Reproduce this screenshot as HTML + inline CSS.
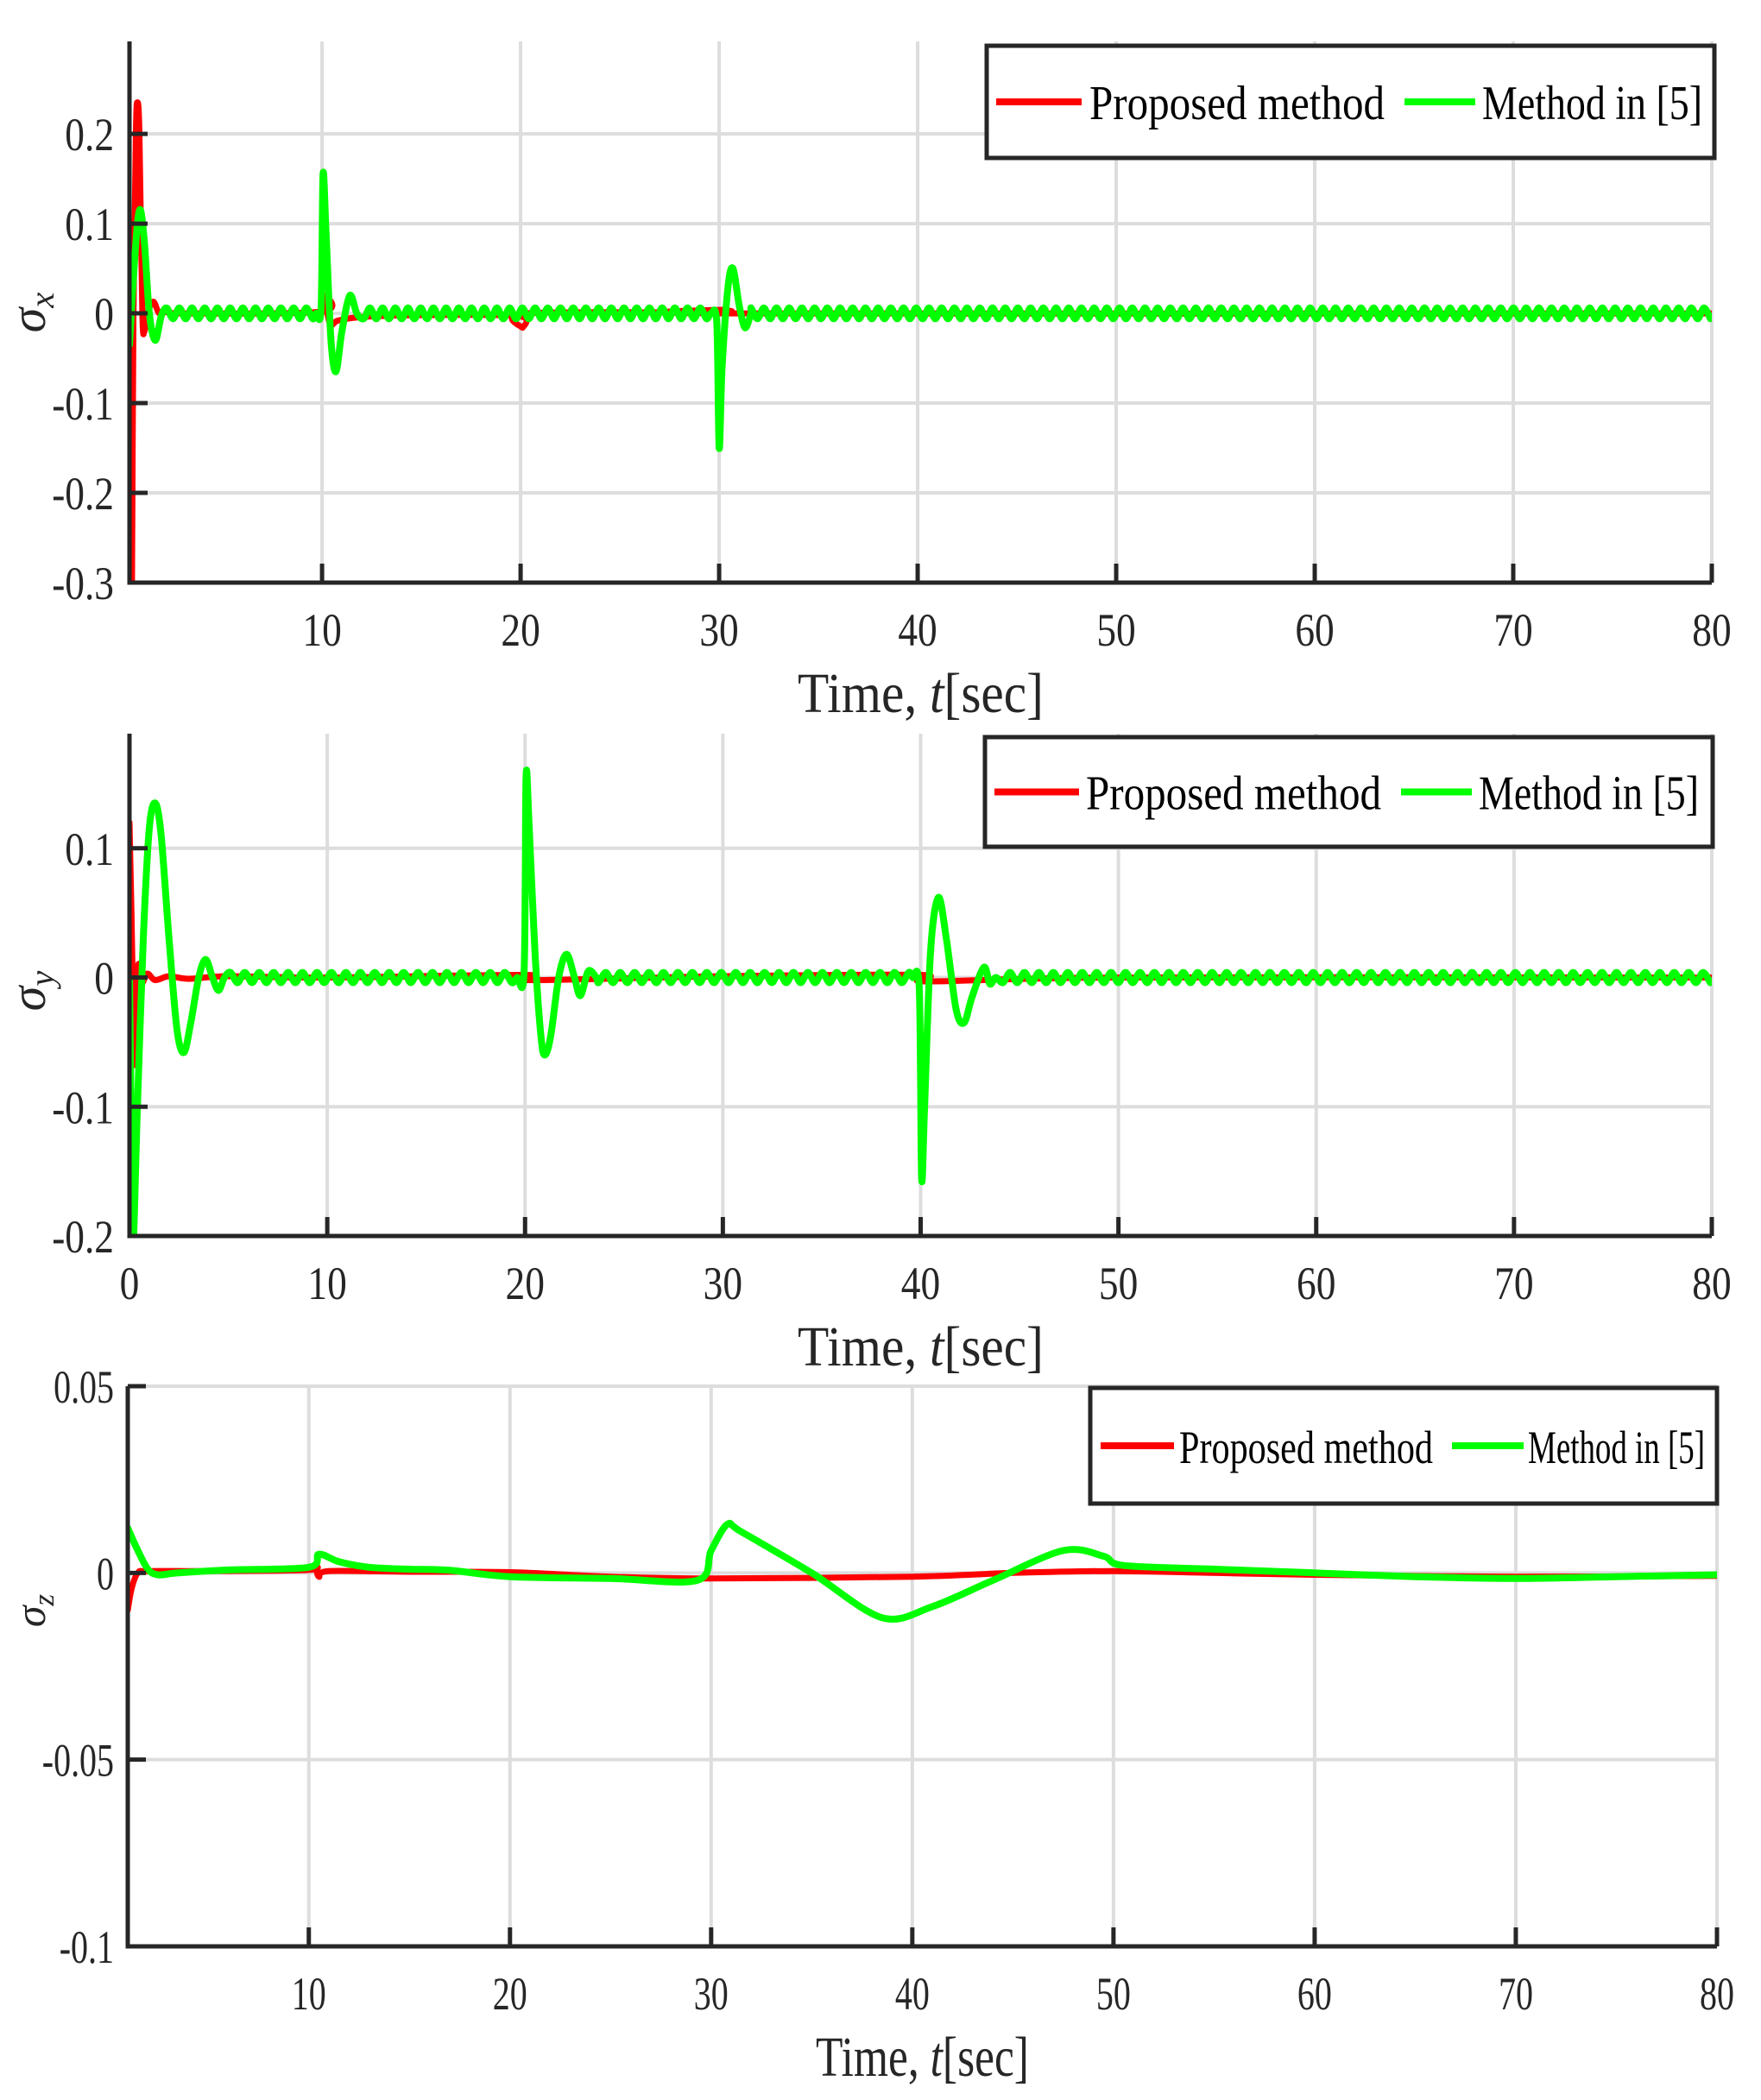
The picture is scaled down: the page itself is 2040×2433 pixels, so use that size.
<!DOCTYPE html>
<html><head><meta charset="utf-8"><style>
html,body{margin:0;padding:0;background:#fff;}
svg{display:block;}
text{font-family:"Liberation Serif","DejaVu Serif",serif;fill:#262626;}
</style></head><body>
<svg id="fig" width="2040" height="2433" viewBox="0 0 2040 2433" xmlns="http://www.w3.org/2000/svg">
<defs>
<clipPath id="c1"><rect x="150" y="48" width="1833" height="627"/></clipPath>
<clipPath id="c2"><rect x="150" y="850" width="1833" height="582"/></clipPath>
<clipPath id="c3"><rect x="148" y="1606" width="1841" height="649"/></clipPath>
</defs>
<g id="g1"></g>
<g id="g2"></g>
<g id="g3"></g>
</svg>
<script>
// ---------- chart 1 (sigma_x) data ----------
const c1Red = [[0.42,-0.32],[0.5,0.0],[0.62,0.2],[0.7,0.235],[0.8,0.2],[0.95,0.0],[1.05,-0.02],[1.2,0.0],[1.5,0.013],[1.8,0.0],[2.2,0.002],[3,0],[10,0.002],[10.1,0.02],[10.4,-0.012],[10.8,-0.008],[12,-0.004],[15,-0.002],[19.9,-0.003],[20.1,-0.016],[20.3,0],[29.9,0.001],[30.2,0.004],[31,0],[80,0]];
const c1GreenTrans = [[0.3,-0.035],[0.5,0.04],[0.7,0.1],[0.86,0.115],[1.05,0.08],[1.3,0.0],[1.6,-0.03],[1.9,-0.003],
 [9.7,0.0],[9.95,0.005],[10.05,0.155],[10.2,0.09],[10.45,-0.03],[10.7,-0.065],[11.0,-0.02],[11.4,0.02],[11.75,0.0],
 [29.6,0.0],[29.88,-0.01],[30.0,-0.15],[30.15,-0.06],[30.45,0.03],[30.7,0.05],[31.0,0.01],[31.3,-0.016],[31.6,0.0]];
const c1Windows = [[0.3,2.0],[9.6,11.8],[29.5,31.6]];
const c1RippleStart = 2.17, c1RippleStep = 0.32;
const c1Ripple = [
0.006,-0.006,0.006,-0.006,0.006,-0.006,0.006,-0.006,0.006,-0.006,0.006,-0.006,0.006,-0.006,0.006,-0.006,
0.006,-0.006,0.006,-0.006,0.006,-0.006,0.006,-0.006,0.006,-0.006,0.006,-0.006,0.006,-0.006,0.006,-0.006,
0.006,-0.006,0.006,-0.006,0.006,-0.006,0.006,-0.006,0.006,-0.006,0.006,-0.006,0.006,-0.006,0.006,-0.006,
0.006,-0.006,0.006,-0.006,0.006,-0.006,0.006,-0.006,0.006,-0.006,0.006,-0.006,0.006,-0.006,0.006,-0.006,
0.006,-0.006,0.006,-0.006,0.006,-0.006,0.006,-0.006,0.006,-0.006,0.006,-0.006,0.006,-0.006,0.006,-0.006,
0.006,-0.006,0.006,-0.006,0.006,-0.006,0.006,-0.006,0.006,-0.006,0.006,-0.006,0.006,-0.006,0.006,-0.006,
0.006,-0.006,0.006,-0.006,0.006,-0.006,0.006,-0.006,0.006,-0.006,0.006,-0.006,0.006,-0.006,0.006,-0.006,
0.006,-0.006,0.006,-0.006,0.006,-0.006,0.006,-0.006,0.006,-0.006,0.006,-0.006,0.006,-0.006,0.006,-0.006,
0.006,-0.006,0.006,-0.006,0.006,-0.006,0.006,-0.006,0.006,-0.006,0.006,-0.006,0.006,-0.006,0.006,-0.006,
0.006,-0.006,0.006,-0.006,0.006,-0.006,0.006,-0.006,0.006,-0.006,0.006,-0.006,0.006,-0.006,0.006,-0.006,
0.006,-0.006,0.006,-0.006,0.006,-0.006,0.006,-0.006,0.006,-0.006,0.006,-0.006,0.006,-0.006,0.006,-0.006,
0.006,-0.006,0.006,-0.006,0.006,-0.006,0.006,-0.006,0.006,-0.006,0.006,-0.006,0.006,-0.006,0.006,-0.006,
0.006,-0.006,0.006,-0.006,0.006,-0.006,0.006,-0.006,0.006,-0.006,0.006,-0.006,0.006,-0.006,0.006,-0.006,
0.006,-0.006,0.006,-0.006,0.006,-0.006,0.006,-0.006,0.006,-0.006,0.006,-0.006,0.006,-0.006,0.006,-0.006,
0.006,-0.006,0.006,-0.006,0.006,-0.006,0.006,-0.006,0.006,-0.006,0.006,-0.006,0.006,-0.006,0.006,-0.006,
0.006,-0.006,0.006,-0.006];
const c1XTicks = [10,20,30,40,50,60,70,80];
const c1YTicks = [0.2,0.1,0,-0.1,-0.2,-0.3];
const c1YLabels = ["0.2","0.1","0","-0.1","-0.2","-0.3"];

// ---------- chart 2 (sigma_y) data ----------
const c2Red = [[0,0.12],[0.1,0.05],[0.25,-0.065],[0.35,-0.03],[0.45,0.01],[0.6,-0.005],[0.9,0.003],[1.3,-0.002],[2,0.001],[3,-0.001],[5,0.001],[10,0],[20,0.002],[20.3,-0.002],[30,0.001],[40,0.002],[40.3,-0.003],[50,0],[80,0]];
const c2GreenTrans = [[0,0],[0.08,-0.1],[0.17,-0.21],[0.4,-0.1],[0.7,0.03],[1.0,0.115],[1.3,0.135],[1.6,0.11],[2.0,0.03],[2.4,-0.04],[2.75,-0.058],[3.1,-0.035],[3.5,0.0],[3.85,0.014],[4.2,0.0],[4.5,-0.01],[4.8,0.0],
 [19.6,0.0],[19.95,0.004],[20.05,0.155],[20.2,0.12],[20.5,0.02],[20.8,-0.045],[21.0,-0.06],[21.3,-0.045],[21.7,0.0],[22.1,0.018],[22.5,0.0],[22.8,-0.014],[23.2,0.005],[23.6,0.0],
 [39.6,0.0],[39.93,-0.008],[40.05,-0.155],[40.2,-0.1],[40.5,0.02],[40.9,0.062],[41.3,0.03],[41.8,-0.025],[42.2,-0.035],[42.6,-0.015],[43.2,0.008],[43.5,-0.005],[43.8,0]];
const c2Windows = [[0,4.95],[19.5,23.7],[39.5,43.9]];
const c2RippleStart = 5.1, c2RippleStep = 0.365;
const c2Ripple = [
0.004,-0.004,0.004,-0.004,0.004,-0.004,0.004,-0.004,0.004,-0.004,0.004,-0.004,0.004,-0.004,0.004,-0.004,
0.004,-0.004,0.004,-0.004,0.004,-0.004,0.004,-0.004,0.004,-0.004,0.004,-0.004,0.004,-0.004,0.004,-0.004,
0.004,-0.004,0.004,-0.004,0.004,-0.004,0.004,-0.004,0.004,-0.004,0.004,-0.004,0.004,-0.004,0.004,-0.004,
0.004,-0.004,0.004,-0.004,0.004,-0.004,0.004,-0.004,0.004,-0.004,0.004,-0.004,0.004,-0.004,0.004,-0.004,
0.004,-0.004,0.004,-0.004,0.004,-0.004,0.004,-0.004,0.004,-0.004,0.004,-0.004,0.004,-0.004,0.004,-0.004,
0.004,-0.004,0.004,-0.004,0.004,-0.004,0.004,-0.004,0.004,-0.004,0.004,-0.004,0.004,-0.004,0.004,-0.004,
0.004,-0.004,0.004,-0.004,0.004,-0.004,0.004,-0.004,0.004,-0.004,0.004,-0.004,0.004,-0.004,0.004,-0.004,
0.004,-0.004,0.004,-0.004,0.004,-0.004,0.004,-0.004,0.004,-0.004,0.004,-0.004,0.004,-0.004,0.004,-0.004,
0.004,-0.004,0.004,-0.004,0.004,-0.004,0.004,-0.004,0.004,-0.004,0.004,-0.004,0.004,-0.004,0.004,-0.004,
0.004,-0.004,0.004,-0.004,0.004,-0.004,0.004,-0.004,0.004,-0.004,0.004,-0.004,0.004,-0.004,0.004,-0.004,
0.004,-0.004,0.004,-0.004,0.004,-0.004,0.004,-0.004,0.004,-0.004,0.004,-0.004,0.004,-0.004,0.004,-0.004,
0.004,-0.004,0.004,-0.004,0.004,-0.004,0.004,-0.004,0.004,-0.004,0.004,-0.004,0.004,-0.004,0.004,-0.004,
0.004,-0.004,0.004,-0.004,0.004,-0.004,0.004,-0.004,0.004,-0.004,0.004,-0.004,0.004,-0.004];
const c2XTicks = [0,10,20,30,40,50,60,70,80];
const c2YTicks = [0.1,0,-0.1,-0.2];
const c2YLabels = ["0.1","0","-0.1","-0.2"];

// ---------- chart 3 (sigma_z) data ----------
const c3Red = [[1.0,-0.01],[1.2,-0.004],[1.5,0.0],[2,0.0005],[5,0.0005],[10,0.0008],[10.3,0.002],[10.5,-0.001],[11,0.0005],[15,0.0003],[20,0.0002],[25,-0.001],[30,-0.0015],[40,-0.001],[45,0],[50,0.0005],[55,0],[60,-0.0005],[70,-0.001],[80,-0.0008]];
const c3Green = [[1.0,0.012],[1.5,0.006],[2.0,0.001],[2.5,-0.0005],[3.5,0.0],[6,0.0008],[10,0.0015],[10.5,0.005],[11.5,0.003],[13,0.0015],[15,0.001],[17,0.0007],[20,-0.001],[25,-0.0015],[29.3,-0.002],[30.0,0.006],[30.8,0.013],[31.5,0.011],[35,0.0],[38.5,-0.012],[41,-0.009],[44,-0.002],[47.5,0.006],[49.5,0.0045],[50.5,0.002],[55,0.001],[60,0.0],[65,-0.001],[70,-0.0015],[75,-0.001],[80,-0.0005]];
const c3XTicks = [10,20,30,40,50,60,70,80];
const c3YTicks = [0.05,0,-0.05,-0.1];
const c3YLabels = ["0.05","0","-0.05","-0.1"];

const NS = "http://www.w3.org/2000/svg";
const FF = '"Liberation Serif", "DejaVu Serif", serif';
function mk(parent, tag, attrs){ const e=document.createElementNS(NS,tag); for(const k in attrs) e.setAttribute(k,attrs[k]); if(tag==='text') e.setAttribute('font-family',FF); parent.appendChild(e); return e; }
function scale(d0,d1,r0,r1){ return v => r0 + (v-d0)/(d1-d0)*(r1-r0); }
function smoothPath(pts){
  if(pts.length<2) return "";
  let d = "M"+pts[0][0].toFixed(1)+","+pts[0][1].toFixed(1);
  for(let i=0;i<pts.length-1;i++){
    const p0=pts[Math.max(0,i-1)], p1=pts[i], p2=pts[i+1], p3=pts[Math.min(pts.length-1,i+2)];
    const t=0.16;
    const c1x=p1[0]+(p2[0]-p0[0])*t, c1y=p1[1]+(p2[1]-p0[1])*t;
    const c2x=p2[0]-(p3[0]-p1[0])*t, c2y=p2[1]-(p3[1]-p1[1])*t;
    d+=" C"+c1x.toFixed(1)+","+c1y.toFixed(1)+" "+c2x.toFixed(1)+","+c2y.toFixed(1)+" "+p2[0].toFixed(1)+","+p2[1].toFixed(1);
  }
  return d;
}
function merge(trans, windows, start, step, ripple){
  const pts = trans.slice();
  ripple.forEach((v,i)=>{ const t=start+i*step; if(t>80.2) return; if(!windows.some(w=>t>=w[0]&&t<=w[1])) pts.push([t,v]); });
  pts.sort((a,b)=>a[0]-b[0]);
  return pts;
}
function condense(el, f){ const L = el.getComputedTextLength(); el.setAttribute('textLength', (L*f).toFixed(1)); el.setAttribute('lengthAdjust','spacingAndGlyphs'); }

function drawChart(g, cfg){
  const X = scale(cfg.xd[0],cfg.xd[1],cfg.L,cfg.R), Y = scale(cfg.yd[0],cfg.yd[1],cfg.B,cfg.T);
  const grid = mk(g,'g',{});
  
  
  cfg.xt.forEach(v=>{ const gl = mk(grid,'line',{x1:X(v),x2:X(v),y1:cfg.T,y2:cfg.B,stroke:'#dddddd','stroke-width':4});
    
     });
  cfg.yt.forEach(v=>{ const gl = mk(grid,'line',{x1:cfg.L,x2:cfg.R,y1:Y(v),y2:Y(v),stroke:'#dddddd','stroke-width':4});
    
     });
  const sg = mk(g,'g',{'clip-path':'url(#'+cfg.clip+')'});
  
  
  const pr = mk(sg,'path',{d:smoothPath(cfg.red.map(p=>[X(p[0]),Y(p[1])])),fill:'none',stroke:'#ff0000','stroke-width':7,'stroke-linejoin':'round','stroke-linecap':'round'});
  
  
  const pg = mk(sg,'path',{d:smoothPath(cfg.green.map(p=>[X(p[0]),Y(p[1])])),fill:'none',stroke:'#00ff00','stroke-width':8,'stroke-linejoin':'round','stroke-linecap':'round'});
  
  
  const ax = mk(g,'path',{d:`M${cfg.L},${cfg.T} V${cfg.B} H${cfg.R}`,fill:'none',stroke:'#262626','stroke-width':5});
  
  
  cfg.xt.forEach(v=>{ const t = mk(g,'line',{x1:X(v),x2:X(v),y1:cfg.B,y2:cfg.B-22,stroke:'#262626','stroke-width':5});
    
    
    const tx = mk(g,'text',{x:X(v),y:cfg.B+73,'font-size':54,'text-anchor':'middle'}); tx.textContent=String(v);
    
    
    condense(tx,cfg.cf); });
  cfg.yt.forEach((v,i)=>{ const t = mk(g,'line',{x1:cfg.L,x2:cfg.L+21,y1:Y(v),y2:Y(v),stroke:'#262626','stroke-width':5});
    
    
    const tx = mk(g,'text',{x:132,y:Y(v)+19,'font-size':54,'text-anchor':'end'}); tx.textContent=cfg.yl[i];
    
    
    condense(tx,cfg.cf); });
  const xt = mk(g,'text',{x:(cfg.L+cfg.R)/2,y:cfg.B+150,'font-size':66,'text-anchor':'middle'});
  
  
  xt.innerHTML = 'Time, <tspan font-style="italic">t</tspan>[sec]';
  condense(xt,cfg.tf);
  const yt = mk(g,'text',{x:0,y:0,'font-size':cfg.sf,'text-anchor':'middle','font-style':'italic',transform:`translate(${cfg.sx},${cfg.sy}) rotate(-90)`});
  
  
  yt.innerHTML = 'σ<tspan font-size="'+(cfg.sf*0.7)+'" dy="10">'+cfg.sub+'</tspan>';
  const lg = mk(g,'g',{});
  
  
  const lw = cfg.leg;
  const box = mk(lg,'rect',{x:lw.x,y:lw.y,width:lw.w,height:lw.h,fill:'#fff',stroke:'#262626','stroke-width':5});
  
  
  const ly = lw.y+lw.h/2;
  const l1 = mk(lg,'line',{x1:lw.r1[0],x2:lw.r1[1],y1:ly,y2:ly,stroke:'#ff0000','stroke-width':8});
  
  
  const t1 = mk(lg,'text',{x:lw.t1[0],y:ly+lw.bo,'font-size':lw.fs,style:'fill:#000'}); t1.textContent='Proposed method';
  
  
  t1.setAttribute('textLength', lw.t1[1]-lw.t1[0]); t1.setAttribute('lengthAdjust','spacingAndGlyphs');
  const l2 = mk(lg,'line',{x1:lw.g1[0],x2:lw.g1[1],y1:ly,y2:ly,stroke:'#00ff00','stroke-width':8});
  
  
  const t2 = mk(lg,'text',{x:lw.t2[0],y:ly+lw.bo,'font-size':lw.fs,style:'fill:#000'}); t2.textContent='Method in [5]';
  
  
  t2.setAttribute('textLength', lw.t2[1]-lw.t2[0]); t2.setAttribute('lengthAdjust','spacingAndGlyphs');
}

drawChart(document.getElementById('g1'),{L:150,R:1983,T:48,B:675,xd:[0.3,80],yd:[-0.3,0.303],clip:'c1',
  red:c1Red, green:merge(c1GreenTrans,c1Windows,c1RippleStart,c1RippleStep,c1Ripple),
  xt:c1XTicks, yt:c1YTicks, yl:c1YLabels, cf:0.84, tf:0.9, sf:58, sub:'x', sx:52, sy:362,
  leg:{x:1143,y:53,w:843,h:130,r1:[1154,1253],t1:[1262,1604],g1:[1627,1709],t2:[1717,1972],fs:56,bo:20}});
drawChart(document.getElementById('g2'),{L:150,R:1983,T:850,B:1432,xd:[0,80],yd:[-0.2,0.1887],clip:'c2',
  red:c2Red, green:merge(c2GreenTrans,c2Windows,c2RippleStart,c2RippleStep,c2Ripple),
  xt:c2XTicks, yt:c2YTicks, yl:c2YLabels, cf:0.84, tf:0.9, sf:58, sub:'y', sx:52, sy:1148,
  leg:{x:1141,y:854,w:843,h:127,r1:[1152,1250],t1:[1258,1600],g1:[1623,1705],t2:[1713,1968],fs:56,bo:20}});
drawChart(document.getElementById('g3'),{L:148,R:1989,T:1606,B:2255,xd:[1.0,80],yd:[-0.1,0.05],clip:'c3',
  red:c3Red, green:c3Green,
  xt:c3XTicks, yt:c3YTicks, yl:c3YLabels, cf:0.74, tf:0.78, sf:50, sub:'z', sx:52, sy:1866,
  leg:{x:1263,y:1608,w:726,h:134,r1:[1275,1360],t1:[1366,1660],g1:[1682,1765],t2:[1770,1975],fs:54,bo:20}});
</script>
</body></html>
